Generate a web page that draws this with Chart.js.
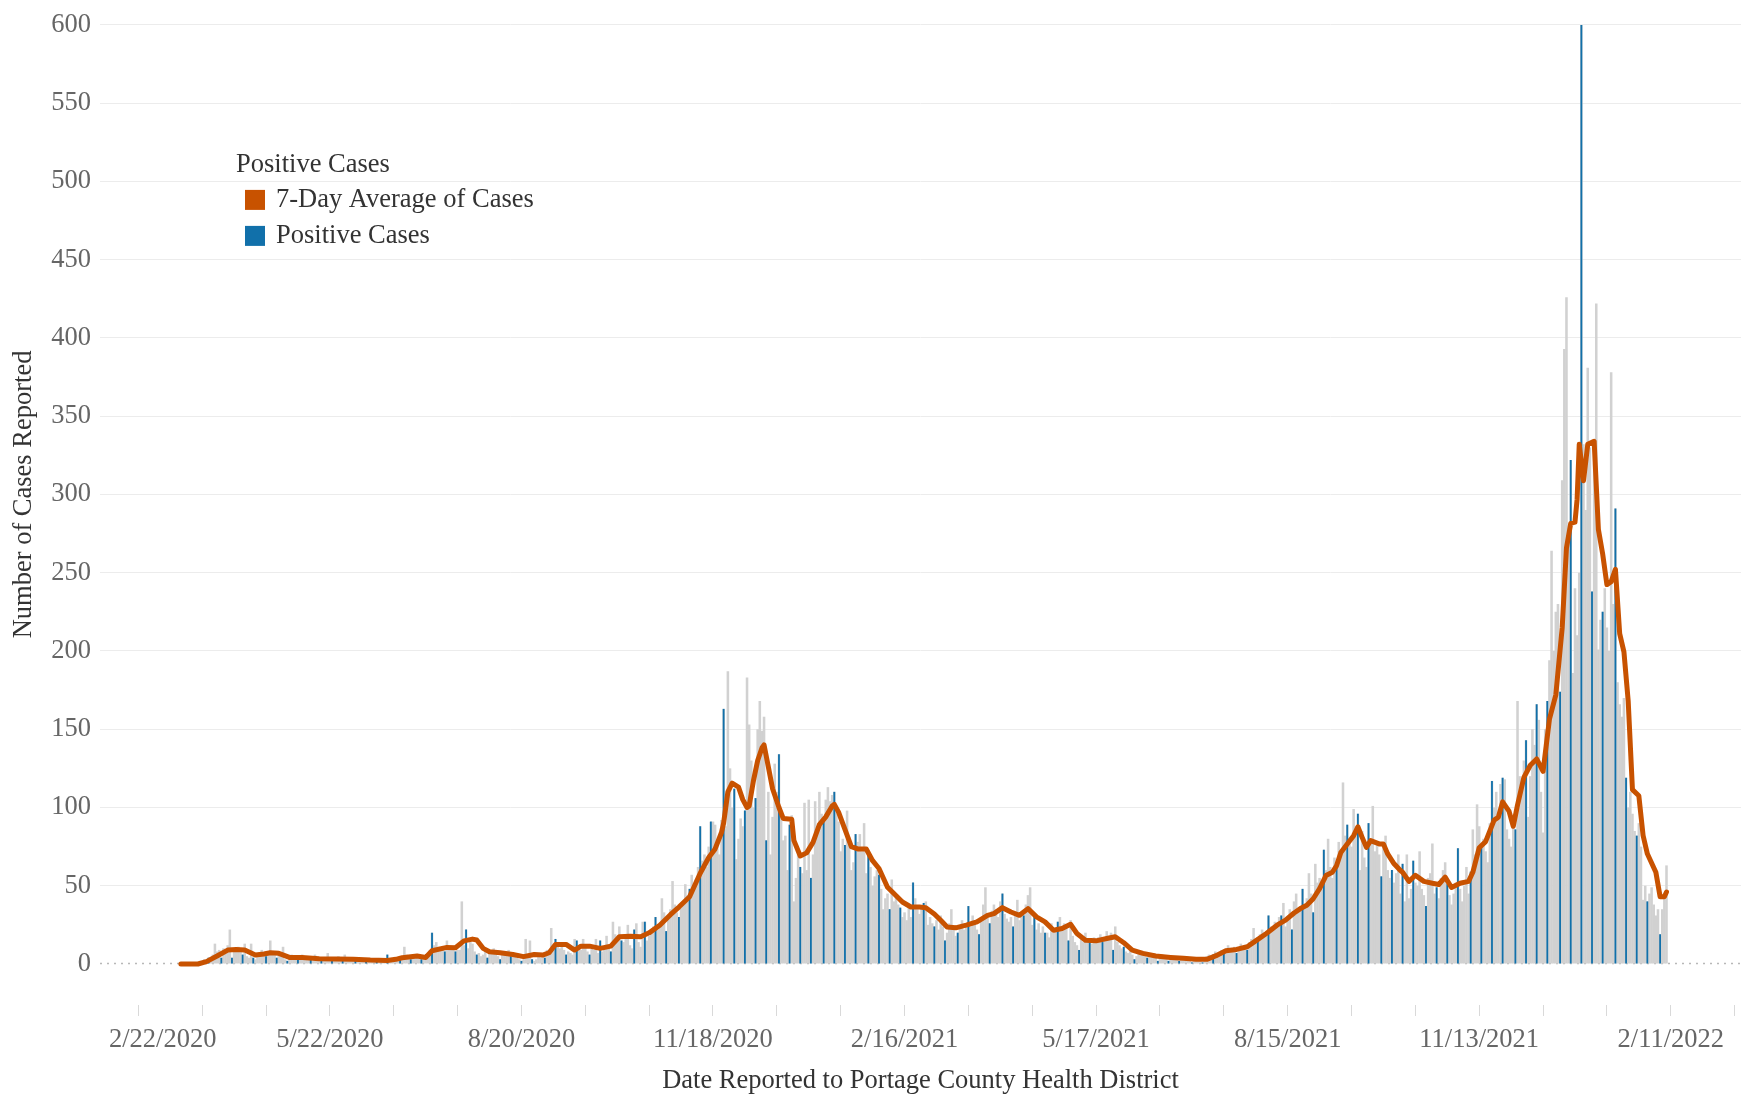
<!DOCTYPE html>
<html>
<head>
<meta charset="utf-8">
<title>Positive Cases</title>
<script src="https://cdn.jsdelivr.net/npm/chart.js@4.4.1/dist/chart.umd.min.js"></script>
<style>
html, body { margin: 0; padding: 0; background: #fff; }
#chart { display: block; }
</style>
</head>
<body>
<canvas id="chart" width="1746" height="1097"></canvas>
<script>
// x axis is counted in days from 2/22/2020
const tickLabels = ['2/22/2020', '5/22/2020', '8/20/2020', '11/18/2020', '2/16/2021', '5/17/2021', '8/15/2021', '11/13/2021', '2/11/2022']
const tickEvery = 30
const labelEvery = 90
const yTicks = [0, 50, 100, 150, 200, 250, 300, 350, 400, 450, 500, 550, 600]

const firstDay = 20 // 3/13/2020

// daily positive cases, 3/13/2020 .. 2/9/2022 (10 days per row)
const cases = [
0,0,0,0,0,1,0,1,1,2,
1,3,2,4,3,6,13,8,9,4,
10,7,12,22,4,9,8,11,9,6,
13,5,4,13,4,3,6,5,9,7,
5,7,15,6,8,4,6,5,11,3,
2,5,6,4,5,3,4,6,4,3,
4,3,2,6,4,3,2,3,4,7,
3,2,4,3,5,3,2,6,3,2,
4,3,2,4,2,3,3,2,2,3,
2,3,2,1,3,2,2,6,2,3,
2,4,4,3,4,11,6,5,3,4,
6,5,4,3,5,4,6,9,20,12,
14,11,9,10,8,15,10,11,10,8,
9,9,40,12,22,10,16,13,8,6,
7,5,6,9,4,8,7,10,6,5,
3,8,7,6,9,5,5,6,4,3,
2,3,16,4,15,3,2,3,5,4,
5,4,9,7,23,12,16,11,10,13,
9,6,8,7,6,16,15,12,9,16,
11,8,6,10,9,16,7,15,8,9,
18,12,8,27,19,17,24,15,14,16,
25,12,10,22,26,14,11,27,27,15,
18,20,24,30,22,26,42,33,21,30,
35,53,38,33,30,36,40,51,44,48,
57,50,54,62,88,66,70,62,75,91,
91,89,76,70,92,163,88,187,125,100,
112,67,80,93,88,98,183,153,130,100,
106,150,168,149,158,79,110,70,94,128,
110,134,95,79,82,60,89,95,40,55,
70,62,58,103,60,105,55,70,104,88,
110,96,92,105,113,104,108,110,100,91,
72,80,76,98,81,60,65,83,78,83,
72,90,58,71,62,50,56,60,57,48,
35,42,45,35,54,40,44,38,36,30,
33,28,38,30,52,42,35,32,36,39,
40,25,30,26,24,28,22,31,24,15,
20,26,35,22,18,20,24,28,22,25,
37,24,31,26,22,19,30,38,49,30,
26,34,38,35,30,40,45,32,29,27,
30,24,33,41,28,32,31,38,44,49,
25,30,22,26,20,24,20,20,17,26,
20,22,27,30,24,26,25,15,28,18,
14,12,9,16,14,20,15,14,13,17,
15,17,19,14,16,21,18,20,9,24,
14,12,10,11,8,7,9,6,3,5,
7,6,8,5,4,6,5,7,4,2,
5,6,4,5,2,4,5,3,4,2,
4,5,3,4,3,1,4,3,2,4,
1,3,5,6,4,6,8,7,6,9,
9,10,12,8,9,11,7,10,13,9,
12,9,14,16,23,13,17,19,22,20,
18,31,24,22,27,25,30,31,39,24,
30,35,22,40,45,33,36,48,38,42,
58,45,33,64,52,55,50,73,60,80,
62,55,68,65,78,70,116,82,89,78,
75,99,88,96,60,85,68,62,90,80,
101,72,78,70,56,74,82,60,55,60,
52,58,70,45,64,40,70,42,48,66,
52,50,72,48,44,37,55,58,77,45,
49,42,55,60,65,51,44,38,45,52,
74,48,40,50,62,45,59,86,70,102,
88,76,80,72,65,90,117,100,110,92,
115,119,118,86,80,75,95,86,168,120,
110,130,143,94,120,150,140,166,156,110,
84,150,168,194,264,200,225,230,174,309,
393,426,280,322,186,240,210,250,600,332,
290,381,330,238,320,422,201,220,225,240,
215,200,378,230,291,180,166,158,170,119,
100,110,96,85,82,90,75,41,50,40,
45,49,38,31,35,19,35,42,63
]

// 7-day average (day, value)
const avgDay = [20,28,32,37,42,46,50,55,59,62,66,71,77,85,93,101,109,117,121,124,
131,135,138,145,149,153,157,159,162,165,170,176,181,186,190,193,196,201,205,208,
212,217,222,226,231,236,240,245,250,254,259,264,268,271,274,275,277,279,282,284,
286,287,289,291,293,294,296,298,301,303,307,308,311,314,317,320,323,326,327,329,
332,335,338,342,345,348,352,355,359,363,367,370,374,377,380,384,389,394,399,402,
406,410,414,418,422,426,430,434,438,441,445,450,455,459,463,467,472,478,485,491,
497,502,507,511,516,521,525,530,535,539,543,546,549,552,555,558,561,563,565,568,
571,573,575,577,579,583,585,587,590,593,594,597,600,604,608,611,614,617,621,625,
627,630,633,637,639,641,644,646,648,651,654,657,660,663,666,669,671,673,675,676,
677,679,681,684,686,688,690,692,694,696,698,700,702,705,707,709,713,715,717,718]
const avgCases = [0,0,1.5,5.1,8.9,9.3,8.9,5.7,6.4,7.2,6.8,4.2,4.2,3.4,3.2,3.0,2.5,2.3,3.0,4.0,
5.1,4.2,8.5,10.6,10.4,14.8,15.9,15.3,10,7.8,7.2,6.1,4.7,6.1,5.7,7.2,12.5,12.5,8.9,11.4,
11.4,10,11.4,17.4,17.8,17.4,19.9,24.8,31.5,36.4,43,58,68,73.5,84,90,110,115.5,113,105,
100,101,117,130,138,140,126,112,100,93,92.5,79,69,71,77.7,89,94,101,102,97,
86,75,73.5,73.5,66,61,49,45,39.6,36.4,36.4,36,32,28,23.7,23.1,24.8,26.9,31.1,32.2,
36,33.2,31.1,35.4,30.1,26.9,21.6,22.7,25.4,19.5,15.2,14.8,16.3,17.4,13.6,8.9,6.8,5.1,4.2,3.6,
3.0,3.0,5.7,8.5,9.3,11,14.8,19.5,24.8,28,32.6,35.4,37.5,41.7,48.1,56.5,58.6,62.9,71.3,76.7,
82,87.7,80.9,74.5,78.8,76.7,76.7,70.3,64,59.7,58.6,52.8,56.7,52.8,51.6,50.8,55.5,48.9,51.6,52.8,
58.6,74.3,78.2,91.9,93.8,103.6,97.7,88,101.6,119.2,127,131,123.1,156.4,172,215,265.8,281.5,282.3,297,
332,308.8,332,334,277.6,262,242.4,244.3,252.2,211.1,199.4,168,111.4,107.5,82.1,70.4,58.6,43,43,46]

const FONT = '"Liberation Serif", "Times New Roman", serif'
const GREY = '#d1d1d1'
const BLUE = '#1170aa'
const ORANGE = '#c85200'

// in the original only some bars come out blue (about every 5.24 days)
const blueStep = 5.24
const blueAnchor = 678
function isBlue(day) {
  const k = Math.round((day - blueAnchor) / blueStep)
  return Math.round(blueAnchor + k * blueStep) === day
}

const dailyPoints = cases.map((v, i) => ({x: firstDay + i, y: v}))

// dotted zero line, under the bars
const zeroLine = {
  id: 'zeroLine',
  beforeDatasetsDraw(chart) {
    const {ctx, chartArea, scales} = chart
    const py = Math.round(scales.y.getPixelForValue(0)) - 0.5
    ctx.save()
    ctx.strokeStyle = '#b8b8b8'
    ctx.lineWidth = 1.5
    ctx.setLineDash([2, 5])
    ctx.beginPath()
    ctx.moveTo(chartArea.left, py)
    ctx.lineTo(chartArea.right, py)
    ctx.stroke()
    ctx.restore()
  }
}

// Tableau keeps the first date label inside the pane
const firstLabelInside = {
  id: 'firstLabelInside',
  beforeDraw(chart) {
    const items = chart.scales.x.getLabelItems()
    const first = items.find(it => it.label === tickLabels[0])
    if (first) {
      first.options.textAlign = 'left'
      first.options.translation[0] = chart.chartArea.left + 9
    }
  }
}

const legendBox = {
  id: 'legendBox',
  afterDraw(chart) {
    const {ctx, chartArea} = chart
    const x0 = chartArea.left + 136
    const y0 = chartArea.top + 140
    ctx.save()
    ctx.font = '26.5px ' + FONT
    ctx.textBaseline = 'middle'
    ctx.textAlign = 'left'
    ctx.fillStyle = '#333'
    ctx.fillText('Positive Cases', x0, y0)
    chart.data.datasets.filter(ds => ds.legendColor).forEach((ds, i) => {
      const y = y0 + 35 + i * 36
      ctx.fillStyle = ds.legendColor
      ctx.fillRect(x0 + 9, y - 10, 20, 20)
      ctx.fillStyle = '#333'
      ctx.fillText(ds.label, x0 + 40, y)
    })
    ctx.restore()
  }
}

let chart = new Chart(document.querySelector('#chart'), {
  type: 'bar',
  data: {
    datasets: [
      {
        type: 'line',
        label: '7-Day Average of Cases',
        data: avgDay.map((d, i) => ({x: d, y: avgCases[i]})),
        borderColor: ORANGE,
        borderWidth: 5,
        pointRadius: 0,
        tension: 0,
        borderJoinStyle: 'round',
        borderCapStyle: 'round',
        fill: false,
        clip: 8,
        order: 0,
        legendColor: ORANGE
      },
      {
        type: 'bar',
        label: 'Positive Cases',
        data: dailyPoints.filter(p => isBlue(p.x)),
        backgroundColor: BLUE,
        barPercentage: 0.85,
        categoryPercentage: 1,
        grouped: false,
        order: 1,
        legendColor: BLUE
      },
      {
        type: 'bar',
        label: 'Positive Cases (daily)',
        data: dailyPoints,
        backgroundColor: GREY,
        barPercentage: 1.2,
        categoryPercentage: 1,
        grouped: false,
        order: 2
      }
    ]
  },
  options: {
    responsive: false,
    animation: false,
    devicePixelRatio: 1,
    layout: {padding: {top: 20, right: 5, left: 0, bottom: 0}},
    plugins: {legend: {display: false}, tooltip: {enabled: false}},
    scales: {
      x: {
        type: 'linear',
        min: -18,
        max: 753,
        offset: false,
        // tick marks sit below a gap under the zero line
        grid: {offset: false, drawOnChartArea: false, drawTicks: true, tickLength: 52,
          tickColor: '#d9d9d9', tickBorderDash: [0, 41, 11, 0]},
        border: {display: false},
        afterBuildTicks: s => {
          s.ticks = []
          for (let v = 0; v <= 750; v += tickEvery) s.ticks.push({value: v})
        },
        ticks: {
          autoSkip: false, maxRotation: 0, padding: 8, color: '#666',
          font: {family: FONT, size: 26.5},
          callback: v => v % labelEvery === 0 ? tickLabels[v / labelEvery] : ''
        },
        title: {
          display: true, text: 'Date Reported to Portage County Health District',
          color: '#333', font: {family: FONT, size: 26.5}, padding: {top: 4, bottom: 0}
        },
        afterFit: s => { s.height = 133 }
      },
      y: {
        min: 0,
        max: 600,
        afterBuildTicks: s => { s.ticks = yTicks.map(v => ({value: v})) },
        grid: {
          drawTicks: false, lineWidth: 1,
          color: c => (c.tick && c.tick.value === 0) ? 'rgba(0,0,0,0)' : '#ececec'
        },
        border: {display: false},
        ticks: {padding: 9, color: '#666', font: {family: FONT, size: 26.5}},
        title: {
          display: true, text: 'Number of Cases Reported',
          color: '#333', font: {family: FONT, size: 26.5}, padding: {top: 8, bottom: 0}
        },
        afterFit: s => { s.width = 100 }
      }
    }
  },
  plugins: [zeroLine, firstLabelInside, legendBox]
})
</script>
</body>
</html>
